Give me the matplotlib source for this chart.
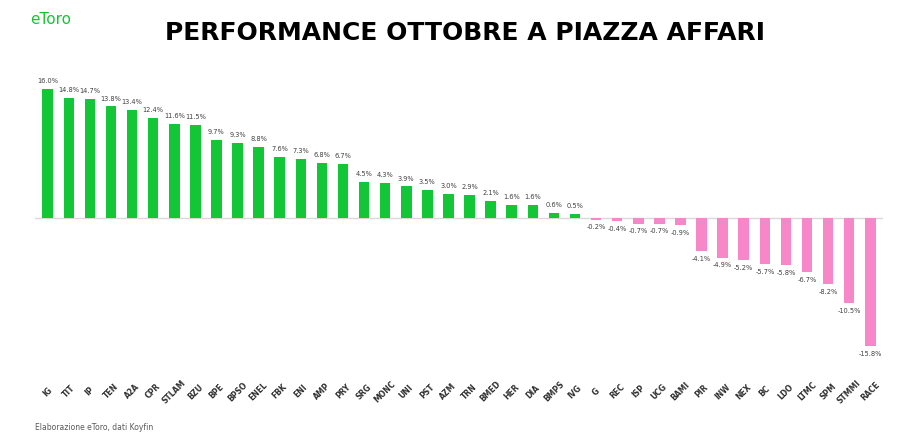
import numpy as np
import matplotlib.pyplot as plt

# Dati: performance di ottobre dei titoli di Piazza Affari (%)
tickers = ["IG", "TIT", "IP", "TEN", "A2A", "CPR", "STLAM", "BZU", "BPE", "BPSO",
           "ENEL", "FBK", "ENI", "AMP", "PRY", "SRG", "MONC", "UNI", "PST", "AZM",
           "TRN", "BMED", "HER", "DIA", "BMPS", "IVG", "G", "REC", "ISP", "UCG",
           "BAMI", "PIR", "INW", "NEX", "BC", "LDO", "LTMC", "SPM", "STMMI", "RACE"]
perf = [16.0, 14.8, 14.7, 13.8, 13.4, 12.4, 11.6, 11.5, 9.7, 9.3,
        8.8, 7.6, 7.3, 6.8, 6.7, 4.5, 4.3, 3.9, 3.5, 3.0,
        2.9, 2.1, 1.6, 1.6, 0.6, 0.5, -0.2, -0.4, -0.7, -0.7,
        -0.9, -4.1, -4.9, -5.2, -5.7, -5.8, -6.7, -8.2, -10.5, -15.8]

verde = "#13C636"
rosa = "#F787C8"

fig = plt.figure(figsize=(9, 4.4), dpi=100)
ax = fig.add_axes([0.039, 0.148, 0.942, 0.693])

x = np.arange(len(tickers))
colori = [verde if v >= 0 else rosa for v in perf]
ax.bar(x, perf, width=0.5, color=colori, zorder=2)
ax.axhline(0, color="#D9D9D9", lw=1, zorder=1)

# Etichette con i valori
for xi, v in zip(x, perf):
    if v >= 0:
        ax.text(xi, v + 0.6, f"{v:.1f}%", ha="center", va="bottom", fontsize=4.8, color="#404040")
    else:
        ax.text(xi, v - 0.6, f"{v:.1f}%", ha="center", va="top", fontsize=4.8, color="#404040")

ax.set_xlim(-0.6, len(tickers) - 0.4)
ax.set_ylim(-19.4, 18.3)
ax.set_xticks(x)
ax.set_xticklabels(tickers, rotation=45, ha="center", va="center", rotation_mode="anchor",
                   fontsize=5.5, fontweight="bold", color="#303030")
ax.tick_params(axis="x", length=0, pad=12)
ax.set_yticks([])
for s in ax.spines.values():
    s.set_visible(False)

# Titolo e logo
fig.text(0.517, 0.925, "PERFORMANCE OTTOBRE A PIAZZA AFFARI", ha="center", va="center",
         fontsize=18, fontweight="bold", color="black")
fig.text(0.033, 0.955, "eToro", ha="left", va="center", fontsize=11, color=verde)
fig.text(0.039, 0.018, "Elaborazione eToro, dati Koyfin", ha="left", va="bottom", fontsize=5.5, color="#595959")

fig.savefig("out.png", dpi=100)
